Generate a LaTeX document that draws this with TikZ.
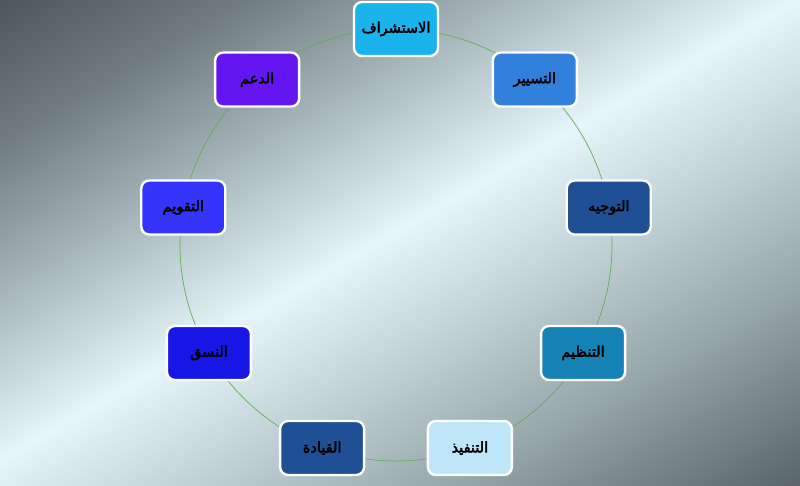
\documentclass[tikz,border=0pt]{standalone}
\usepackage{fontspec}
\newfontfamily\arabicfont[Script=Arabic, FakeBold=3]{DejaVu Sans}
\TeXXeTstate=1
\definecolor{bgA}{RGB}{30,40,45}
\definecolor{bgB}{RGB}{62,74,78}
\definecolor{bgC}{RGB}{112,124,128}
\definecolor{bgD}{RGB}{172,187,192}
\definecolor{bgE}{RGB}{230,245,250}
\definecolor{bgF}{RGB}{200,215,220}
\definecolor{bgG}{RGB}{150,165,170}
\definecolor{bgH}{RGB}{90,102,106}
\definecolor{bgI}{RGB}{30,42,46}
\pgfdeclarehorizontalshading{bgsh}{100bp}{color(0bp)=(bgA); color(12bp)=(bgB); color(26bp)=(bgC); color(38bp)=(bgD); color(49bp)=(bgE); color(57bp)=(bgF); color(70bp)=(bgG); color(84bp)=(bgH); color(100bp)=(bgI)}
\definecolor{cA}{RGB}{27,179,236}
\definecolor{cB}{RGB}{48,128,220}
\definecolor{cC}{RGB}{31,80,150}
\definecolor{cD}{RGB}{20,130,180}
\definecolor{cE}{RGB}{190,230,248}
\definecolor{cF}{RGB}{31,80,150}
\definecolor{cG}{RGB}{22,22,230}
\definecolor{cH}{RGB}{52,52,250}
\definecolor{cI}{RGB}{100,22,240}
\definecolor{ring}{RGB}{95,175,85}
\newcommand{\artext}[1]{{\arabicfont\beginR #1\endR}}
\begin{document}
\begin{tikzpicture}[x=1pt,y=1pt,
  box/.style={draw=white, line width=2.4pt, rounded corners=8pt,
    minimum width=84pt, minimum height=54pt, inner sep=0pt,
    font=\fontsize{14.5}{16}\selectfont, text=black},
  ringline/.style={draw=ring, line width=0.7pt}]
\useasboundingbox (0,0) rectangle (800,485);
\shade[shading=bgsh, shading angle=-60] (0,0) rectangle (800,485);
\coordinate (c) at (396,240);
\draw[ringline] (c) circle (216pt);
\node[box, fill=cA] (n1) at ([shift={(396,240)}]90:216) {\artext{الاستشراف}};
\node[box, fill=cB] (n2) at ([shift={(396,240)}]50:216) {\artext{التسيير}};
\node[box, fill=cC] (n3) at ([shift={(396,240)}]10:216) {\artext{التوجيه}};
\node[box, fill=cD] (n4) at ([shift={(396,240)}]-30:216) {\artext{التنظيم}};
\node[box, fill=cE] (n5) at ([shift={(396,240)}]-70:216) {\artext{التنفيذ}};
\node[box, fill=cF] (n6) at ([shift={(396,240)}]-110:216) {\artext{القيادة}};
\node[box, fill=cG] (n7) at ([shift={(396,240)}]-150:216) {\artext{النسق}};
\node[box, fill=cH] (n8) at ([shift={(396,240)}]170:216) {\artext{التقويم}};
\node[box, fill=cI] (n9) at ([shift={(396,240)}]130:216) {\artext{الدعم}};
\end{tikzpicture}
\end{document}
